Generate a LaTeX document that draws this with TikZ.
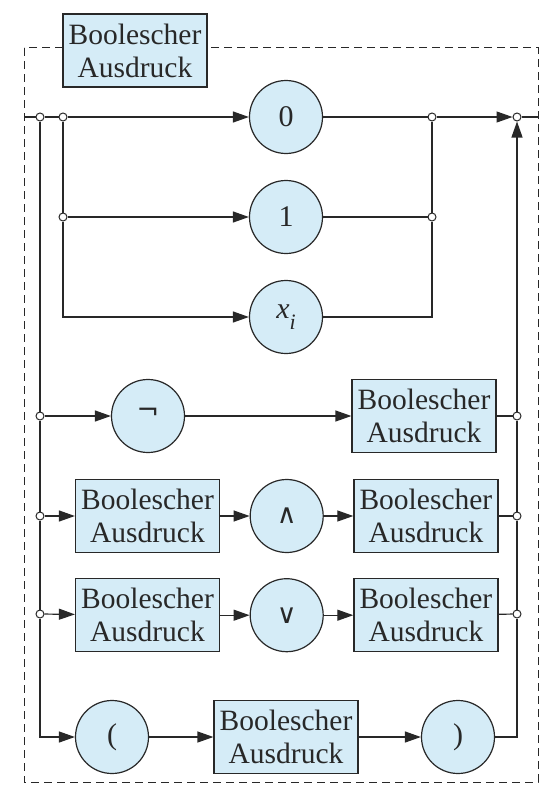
\documentclass[tikz,border=0pt]{standalone}
\usepackage{fontspec}
\setmainfont{Liberation Serif}
\newfontfamily\symfont{DejaVu Sans}
\usetikzlibrary{arrows.meta, positioning}

\definecolor{termblue}{RGB}{213,236,247}
\definecolor{linegray}{RGB}{40,40,40}

\tikzset{
	term/.style={circle, draw=linegray, fill=termblue, line width=1.2pt, minimum size=73pt, inner sep=0pt, font=\fontsize{30}{33}\selectfont},
	op/.style={term, font=\symfont\fontsize{27}{30}\selectfont},
	expr/.style={rectangle, draw=linegray, fill=termblue, line width=1.2pt, minimum width=144pt, minimum height=73pt, inner sep=0pt, align=center, font=\fontsize{29.5}{33}\selectfont},
	dot/.style={circle, draw=linegray, fill=white, line width=1pt, minimum size=8pt, inner sep=0pt}
}

\begin{document}
\begin{tikzpicture}[x=1pt, y=-1pt, color=linegray, line width=1.2pt, node distance=29.5pt, >={Triangle[length=16pt,width=11pt]}]
		
		\useasboundingbox (0,0) rectangle (556,792);
		
		% frame and title
		\draw[dash pattern=on 8pt off 5pt, line width=1pt] (24,48) rectangle (538,782);
		\node[expr] (title) at (135,50.5) {Boolescher\\Ausdruck};
		
		\coordinate (in) at (24,117);
		\coordinate (end) at (538,117);
		
		% junctions
		\node[dot] (j0l) at (40,117) {};
		\node[dot] (j0m) at (63,117) {};
		\node[dot] (j1m) at (63,217) {};
		\node[dot] (j3l) at (40,416) {};
		\node[dot] (j4l) at (40,516) {};
		\node[dot] (j5l) at (40,614) {};
		\node[dot] (j0r) at (432,117) {};
		\node[dot] (j1r) at (432,217) {};
		\node[dot] (out) at (517,117) {};
		\node[dot] (j3r) at (517,416) {};
		\node[dot] (j4r) at (517,516) {};
		\node[dot] (j5r) at (517,614) {};
		
		% constants and variable
		\node[term] (c0) at (286,117) {0};
		\node[term] (c1) at (286,217) {1};
		\node[term] (cx) at (286,317) {\itshape x\raisebox{-0.35em}{\fontsize{22}{22}\selectfont i}};
		
		% negation
		\node[op] (cneg) at (148,416) {\raisebox{0.15em}{¬}};
		\node[expr] (n2) at (424,416) {Boolescher\\Ausdruck};
		
		% and, or
		\node[expr] (a1) at (147.5,516) {Boolescher\\Ausdruck};
		\node[op, right=of a1] (cand) {∧};
		\node[expr, right=of cand] (a2) {Boolescher\\Ausdruck};
		\node[expr, below=25pt of a1] (o1) {Boolescher\\Ausdruck};
		\node[op, right=of o1] (cor) {∨};
		\node[expr, right=of cor] (o2) {Boolescher\\Ausdruck};
		
		% brackets
		\node[term] (lpar) at (112,737) {(};
		\node[expr] (p2) at (286,737) {Boolescher\\Ausdruck};
		\node[term] (rpar) at (458,737) {)};
		
		\draw (in) -- (j0l) -- (j0m);
		\draw[->] (j0m) -- (c0);
		\draw (c0) -- (j0r);
		\draw[->] (j0r) -- (out);
		\draw (out) -- (end);
		
		\draw (j0m) -- (j1m);
		\draw[->] (j1m) -- (c1);
		\draw[->] (j1m) |- (cx);
		\draw (c1) -- (j1r);
		\draw (cx) -| (j1r);
		\draw (j1r) -- (j0r);
		
		\draw (j0l) -- (j3l) -- (j4l) -- (j5l);
		\draw[->] (j3l) -- (cneg);
		\draw[->] (cneg) -- (n2);
		\draw (n2) -- (j3r);
		
		\draw[->] (j4l) -- (a1);
		\draw[->] (a1) -- (cand);
		\draw[->] (cand) -- (a2);
		\draw (a2) -- (j4r);
		
		\draw[->] (j5l) -- (o1);
		\draw[->] (o1) -- (cor);
		\draw[->] (cor) -- (o2);
		\draw (o2) -- (j5r);
		
		\draw[->] (j5l) |- (lpar);
		\draw[->] (lpar) -- (p2);
		\draw[->] (p2) -- (rpar);
		\draw[->] (rpar) -| (j5r) -- (j4r) -- (j3r) -- (out);
		
		\end{tikzpicture}
\end{document}
